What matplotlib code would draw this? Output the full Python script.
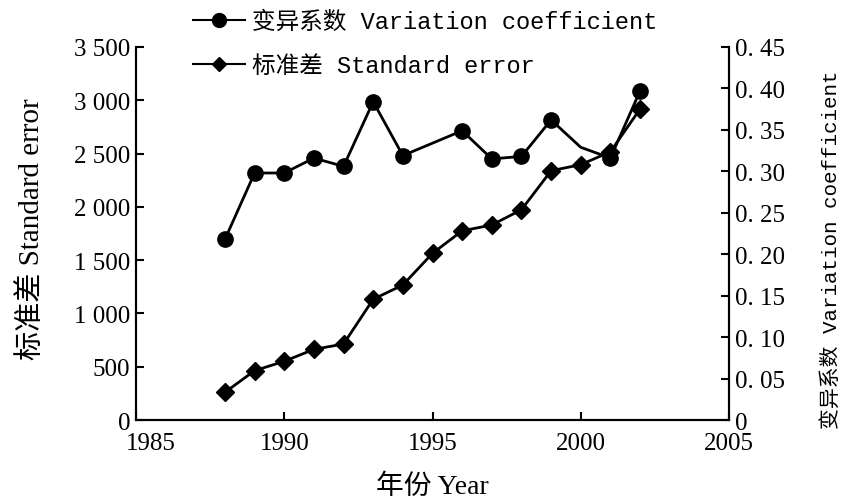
import matplotlib
matplotlib.use("Agg")
import matplotlib.pyplot as plt
from matplotlib.ticker import FixedLocator, FixedFormatter
from matplotlib.lines import Line2D
from matplotlib.transforms import ScaledTranslation

# ---- data ----
cv_years = [1988, 1989, 1990, 1991, 1992, 1993, 1994, 1996, 1997, 1998, 1999, 2000, 2001, 2002]
cv_values = [0.218, 0.298, 0.298, 0.316, 0.306, 0.384, 0.319, 0.349, 0.315, 0.318, 0.362, 0.329, 0.316, 0.397]
cv_marker_idx = [0, 1, 2, 3, 4, 5, 6, 7, 8, 9, 10, 12, 13]  # 2000 has no marker

se_years = [1988, 1989, 1990, 1991, 1992, 1993, 1994, 1995, 1996, 1997, 1998, 1999, 2000, 2001, 2002]
se_values = [260, 463, 551, 663, 713, 1133, 1267, 1564, 1775, 1830, 1973, 2339, 2396, 2517, 2918]

left_ticks = [0, 500, 1000, 1500, 2000, 2500, 3000, 3500]
left_labels = ["0", "500", "1 000", "1 500", "2 000", "2 500", "3 000", "3 500"]
right_ticks = [0, 0.05, 0.10, 0.15, 0.20, 0.25, 0.30, 0.35, 0.40, 0.45]
right_labels = ["0", "0. 05", "0. 10", "0. 15", "0. 20", "0. 25", "0. 30", "0. 35", "0. 40", "0. 45"]
x_ticks = [1985, 1990, 1995, 2000, 2005]

cv_label = "变异系数 Variation coefficient"
se_label = "标准差 Standard error"
xlabel = "年份 Year"

serif = ["Liberation Serif", "Noto Sans CJK SC"]
mono = ["Liberation Mono", "Noto Sans CJK SC"]
plt.rcParams["font.family"] = serif

fig = plt.figure(figsize=(8.61, 5.02), dpi=100)
ax = fig.add_axes([136/861, 1-421/502, (729-136)/861, (421-48)/502])
ax2 = ax.twinx()

ax.plot(se_years, se_values, color="black", lw=2, marker="D", ms=9, mfc="black", mec="black")
ax2.plot(cv_years, cv_values, color="black", lw=2, marker="o", ms=11, mfc="black", mec="black",
         markevery=cv_marker_idx)

ax.set_xlim(1985, 2005)
ax.set_ylim(0, 3500)
ax2.set_ylim(0, 0.45)

ax.xaxis.set_major_locator(FixedLocator(x_ticks))
ax.yaxis.set_major_locator(FixedLocator(left_ticks))
ax.yaxis.set_major_formatter(FixedFormatter(left_labels))
ax2.yaxis.set_major_locator(FixedLocator(right_ticks))
ax2.yaxis.set_major_formatter(FixedFormatter(right_labels))

for a in (ax, ax2):
    a.spines["top"].set_visible(False)
    for s in a.spines.values():
        s.set_linewidth(1.5)
    a.tick_params(direction="in", length=6, width=1.5, labelsize=18, pad=4)
ax.tick_params(axis="x", pad=9)

# shift the first x tick label right so it clears the "0" labels
t0 = ax.xaxis.get_major_ticks()[0]
t0.label1.set_transform(t0.label1.get_transform() + ScaledTranslation(0.15, 0, fig.dpi_scale_trans))

ax.set_xlabel(xlabel, fontsize=20, labelpad=14)
ax.set_ylabel(se_label, fontsize=21)
ax.yaxis.set_label_coords(-0.153, 0.515)
ax2.set_ylabel(cv_label, fontsize=15, family=mono, rotation=90)
ax2.yaxis.set_label_coords(1.155, 0.46)

handles = [Line2D([], [], color="black", lw=1.5, marker="o", ms=10),
           Line2D([], [], color="black", lw=1.5, marker="D", ms=7)]
fig.legend(handles, [cv_label, se_label], loc="upper left", bbox_to_anchor=(0.2, 1.02),
           frameon=False, prop={"family": mono, "size": 17},
           handlelength=2.2, labelspacing=0.9, handletextpad=0.3)

fig.savefig("out.png", dpi=100)
